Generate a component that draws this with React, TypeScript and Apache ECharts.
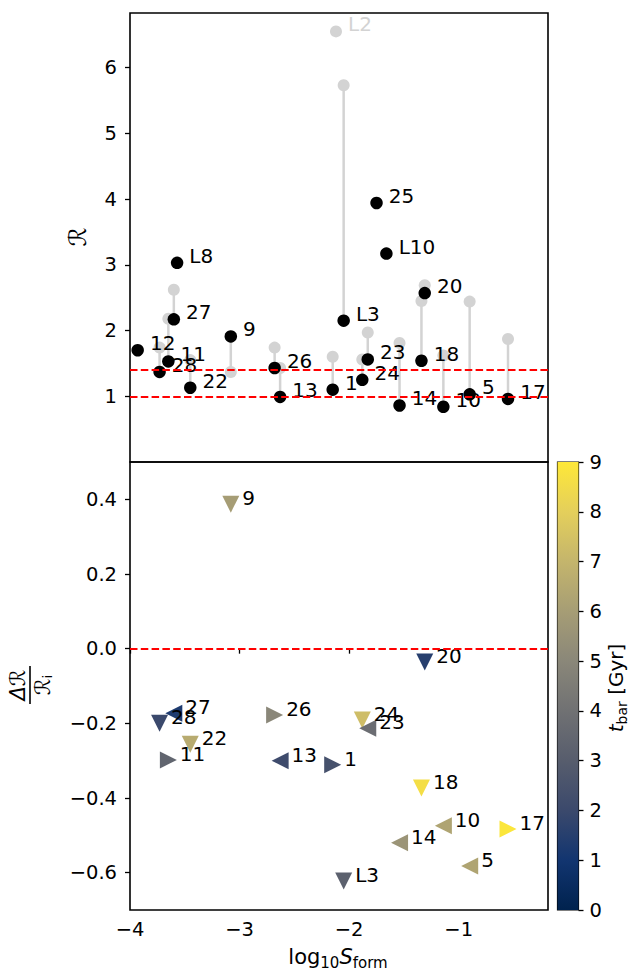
import React, { useEffect, useRef } from "react";
import * as echarts from "echarts";

// ---------- data ----------
const topNames = ["12", "28", "11", "27", "L8", "22", "9", "26", "13", "1", "L2", "L3", "24", "23", "25", "L10", "14", "18", "20", "10", "5", "17"];
const topLogS = [-3.93, -3.73, -3.65, -3.60, -3.57, -3.45, -3.08, -2.68, -2.63, -2.15, -2.12, -2.05, -1.88, -1.83, -1.75, -1.66, -1.54, -1.34, -1.31, -1.14, -0.90, -0.55];
const rInitial: (number | null)[] = [null, 1.74, 2.18, 2.62, null, 1.55, 1.37, 1.74, 1.43, 1.60, 6.55, 5.73, 1.56, 1.97, null, null, 1.81, 2.45, 2.69, 1.62, 2.44, 1.87];
const rFinal: (number | null)[] = [1.70, 1.37, 1.53, 2.17, 3.03, 1.13, 1.91, 1.43, 0.99, 1.10, null, 2.15, 1.25, 1.56, 3.94, 3.17, 0.86, 1.54, 2.57, 0.84, 1.03, 0.96];

const botNames = ["28", "11", "27", "22", "9", "26", "13", "1", "L3", "24", "23", "14", "18", "20", "10", "5", "17"];
const botLogS = [-3.73, -3.65, -3.60, -3.45, -3.08, -2.68, -2.63, -2.15, -2.05, -1.88, -1.83, -1.54, -1.34, -1.31, -1.14, -0.90, -0.55];
const deltaFrac = [-0.200, -0.298, -0.173, -0.256, 0.387, -0.178, -0.300, -0.311, -0.622, -0.191, -0.213, -0.520, -0.373, -0.036, -0.474, -0.582, -0.483];
const tBar = [2.0, 3.4, 1.3, 6.6, 6.0, 5.0, 2.1, 2.4, 3.2, 7.3, 3.8, 5.6, 8.6, 1.5, 6.3, 6.3, 8.9];
const markerDir = ["down", "right", "left", "down", "down", "right", "left", "right", "down", "down", "left", "left", "down", "down", "left", "left", "right"];

const xTicks = [-4, -3, -2, -1];
const rTicks = [1, 2, 3, 4, 5, 6];
const dTicks = [-0.6, -0.4, -0.2, 0.0, 0.2, 0.4];
const refLinesR = [1.0, 1.4];
const refLinesD = [0.0];
const cividis = ["#00224e", "#123570", "#3b496c", "#575d6d", "#707173", "#8a8779", "#a69d75", "#c4b56c", "#e4cf5b", "#fee838"];

const FONT = "DejaVu Sans";
const rotMap: Record<string, number> = { down: 180, right: -90, left: 90 };

const fmt = (d: number) => (v: number) => (v < 0 ? "\u2212" : "") + Math.abs(v).toFixed(d);

export default function App() {
  const ref = useRef<HTMLDivElement>(null);
  useEffect(() => {
    if (!ref.current) return;
    const chart = echarts.init(ref.current, undefined, { renderer: "svg" });

    const stems: number[][] = [];
    topLogS.forEach((x, i) => {
      if (rInitial[i] != null && rFinal[i] != null) stems.push([x, rInitial[i] as number, rFinal[i] as number]);
    });
    const grayData: any[] = [];
    topLogS.forEach((x, i) => {
      if (rInitial[i] != null) {
        const item: any = { name: topNames[i], value: [x, rInitial[i]] };
        if (rFinal[i] == null) item.label = { show: true };
        grayData.push(item);
      }
    });
    const blackData: any[] = [];
    topLogS.forEach((x, i) => {
      if (rFinal[i] != null) blackData.push({ name: topNames[i], value: [x, rFinal[i]] });
    });
    const triData = botLogS.map((x, i) => ({
      name: botNames[i],
      value: [x, deltaFrac[i], tBar[i]],
      symbolRotate: rotMap[markerDir[i]],
    }));
    const triLabelData = botLogS.map((x, i) => ({ name: botNames[i], value: [x, deltaFrac[i]] }));

    const tickStyle = { color: "#000", width: 1.3 };
    const labelStyle = { fontSize: 19.5, color: "#000", fontFamily: FONT };
    const annot = { color: "#000", fontSize: 20, fontFamily: FONT };
    const dashed = { color: "#ff0000", type: [7.5, 3.3], width: 2, opacity: 1 };

    const option: any = {
      animation: false,
      textStyle: { fontFamily: FONT, color: "#000" },
      grid: [
        { left: 130, top: 13, width: 418, height: 449, show: true, borderColor: "#000", borderWidth: 1.6, backgroundColor: "transparent", containLabel: false },
        { left: 130, top: 462, width: 418, height: 448, show: true, borderColor: "#000", borderWidth: 1.6, backgroundColor: "transparent", containLabel: false },
        { left: 557.5, top: 462, width: 21, height: 448, show: true, borderColor: "#000", borderWidth: 1.2, backgroundColor: "transparent", containLabel: false },
      ],
      xAxis: [
        { gridIndex: 0, type: "value", min: -4, max: -0.185, axisLine: { show: false }, axisTick: { show: false }, axisLabel: { show: false }, splitLine: { show: false } },
        {
          gridIndex: 1, type: "value", min: -4, max: -0.185,
          axisLine: { show: false },
          axisTick: { show: true, customValues: xTicks, length: 5, lineStyle: tickStyle },
          axisLabel: { ...labelStyle, customValues: xTicks, formatter: fmt(0), margin: 9 },
          splitLine: { show: false },
        },
        { gridIndex: 2, type: "category", data: ["cb"], show: false, boundaryGap: true },
      ],
      yAxis: [
        {
          gridIndex: 0, type: "value", min: 0, max: 6.83,
          axisLine: { show: false },
          axisTick: { show: true, customValues: rTicks, length: 5, lineStyle: tickStyle },
          axisLabel: { ...labelStyle, customValues: rTicks, formatter: fmt(0), margin: 13 },
          splitLine: { show: false },
        },
        {
          gridIndex: 1, type: "value", min: -0.7, max: 0.5,
          axisLine: { show: false },
          axisTick: { show: true, customValues: dTicks, length: 5, lineStyle: tickStyle },
          axisLabel: { ...labelStyle, customValues: dTicks, formatter: fmt(1), margin: 13 },
          splitLine: { show: false },
        },
        {
          gridIndex: 2, type: "value", position: "right", min: 0, max: 9, interval: 1,
          axisLine: { show: false },
          axisTick: { show: true, length: 5, lineStyle: tickStyle },
          axisLabel: { ...labelStyle, margin: 11 },
          splitLine: { show: false },
        },
      ],
      visualMap: [
        { type: "continuous", show: false, min: 0, max: 9, dimension: 2, seriesIndex: 4, inRange: { color: cividis } },
      ],
      series: [
        {
          type: "custom", xAxisIndex: 0, yAxisIndex: 0, z: 1, data: stems,
          renderItem: (params: any, api: any) => {
            const p1 = api.coord([api.value(0), api.value(1)]);
            const p2 = api.coord([api.value(0), api.value(2)]);
            return { type: "line", shape: { x1: p1[0], y1: p1[1], x2: p2[0], y2: p2[1] }, style: { stroke: "#d3d3d3", lineWidth: 2.5 } };
          },
        },
        {
          type: "scatter", xAxisIndex: 0, yAxisIndex: 0, z: 2, symbol: "circle", symbolSize: 12,
          itemStyle: { color: "#d3d3d3", opacity: 1 }, data: grayData,
          label: { show: false, position: "right", distance: 6, offset: [0, -7], formatter: "{b}", ...annot, color: "#d3d3d3" },
        },
        {
          type: "scatter", xAxisIndex: 0, yAxisIndex: 0, z: 3, symbol: "circle", symbolSize: 12.5,
          itemStyle: { color: "#000", opacity: 1 }, data: blackData,
          label: { show: true, position: "right", distance: 6, offset: [0, -7], formatter: "{b}", ...annot },
        },
        {
          type: "line", xAxisIndex: 0, yAxisIndex: 0, z: 6, data: [], silent: true,
          markLine: { silent: true, symbol: "none", label: { show: false }, lineStyle: dashed, data: refLinesR.map((v) => ({ yAxis: v })) },
        },
        {
          type: "scatter", xAxisIndex: 1, yAxisIndex: 1, z: 3, symbol: "triangle", symbolSize: 17,
          itemStyle: { opacity: 1 }, data: triData, label: { show: false },
        },
        {
          type: "scatter", xAxisIndex: 1, yAxisIndex: 1, z: 4, symbol: "circle", symbolSize: 1,
          itemStyle: { color: "transparent", opacity: 1 }, data: triLabelData, silent: true,
          label: { show: true, position: "right", distance: 11, offset: [0, -6], formatter: "{b}", ...annot },
        },
        {
          type: "line", xAxisIndex: 1, yAxisIndex: 1, z: 6, data: [], silent: true,
          markLine: { silent: true, symbol: "none", label: { show: false }, lineStyle: dashed, data: refLinesD.map((v) => ({ yAxis: v })) },
        },
        {
          type: "bar", xAxisIndex: 2, yAxisIndex: 2, data: [9], barWidth: "100%", silent: true,
          itemStyle: {
            opacity: 1,
            color: new echarts.graphic.LinearGradient(0, 1, 0, 0, cividis.map((c, i) => ({ offset: i / (cividis.length - 1), color: c }))),
          },
        },
      ],
      graphic: [
        {
          type: "text", x: 338, y: 957,
          style: {
            text: "{n|log}{s|10}{i|S}{s|form}", align: "center", verticalAlign: "middle", fill: "#000",
            rich: {
              n: { fontSize: 21, fontFamily: FONT, lineHeight: 30 },
              i: { fontSize: 21, fontFamily: FONT, fontStyle: "italic", lineHeight: 30 },
              s: { fontSize: 15, fontFamily: FONT, lineHeight: 15, padding: [12, 0, 0, 0] },
            },
          },
        },
        {
          type: "text", x: 78, y: 237, rotation: Math.PI / 2,
          style: { text: "\u211B", fontSize: 24, fontFamily: FONT, fontStyle: "italic", align: "center", verticalAlign: "middle", fill: "#000" },
        },
        {
          type: "group", x: 30, y: 685, rotation: Math.PI / 2,
          children: [
            { type: "text", x: 0, y: -12, style: { text: "\u0394\u211B", fontSize: 21, fontFamily: FONT, fontStyle: "italic", align: "center", verticalAlign: "middle", fill: "#000" } },
            { type: "line", shape: { x1: -19, y1: 0, x2: 19, y2: 0 }, style: { stroke: "#000", lineWidth: 1.6 } },
            {
              type: "text", x: 0, y: 13,
              style: {
                text: "{r|\u211B}{s|i}", align: "center", verticalAlign: "middle", fill: "#000",
                rich: {
                  r: { fontSize: 21, fontFamily: FONT, fontStyle: "italic", lineHeight: 24 },
                  s: { fontSize: 13, fontFamily: FONT, lineHeight: 13, padding: [9, 0, 0, 0] },
                },
              },
            },
          ],
        },
        {
          type: "text", x: 616, y: 688, rotation: Math.PI / 2,
          style: {
            text: "{i|t}{s|bar}{n| [Gyr]}", align: "center", verticalAlign: "middle", fill: "#000",
            rich: {
              i: { fontSize: 20, fontFamily: FONT, fontStyle: "italic", lineHeight: 28 },
              n: { fontSize: 20, fontFamily: FONT, lineHeight: 28 },
              s: { fontSize: 14, fontFamily: FONT, lineHeight: 14, padding: [11, 0, 0, 0] },
            },
          },
        },
      ],
    };
    chart.setOption(option);
    return () => chart.dispose();
  }, []);
  return <div ref={ref} style={{ position: "fixed", left: 0, top: 0, width: 635, height: 975, background: "#fff" }} />;
}
